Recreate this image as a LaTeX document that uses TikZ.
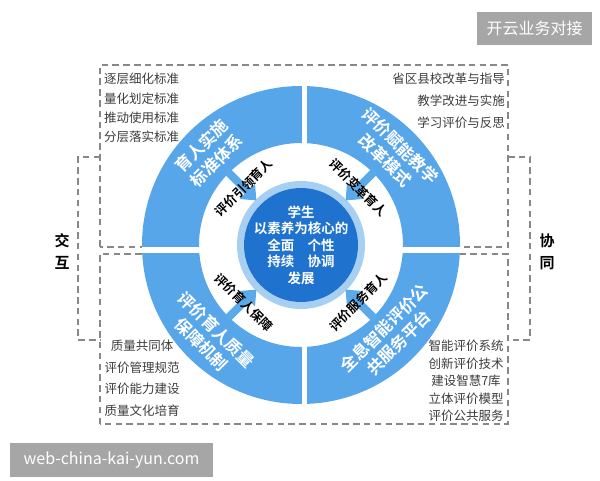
\documentclass[tikz,border=0pt]{standalone}
\usepackage{fontspec}
\setmainfont{Noto Sans CJK SC}[BoldFont={Noto Sans CJK SC Bold}]
\usetikzlibrary{arrows.meta,calc}

\definecolor{ringblue}{HTML}{58A6EA}
\definecolor{coreblue}{HTML}{1F72CE}
\definecolor{haloblue}{HTML}{A6CFF1}
\definecolor{feedblue}{HTML}{5AA9E8}
\definecolor{dashgray}{HTML}{888888}
\definecolor{itemgray}{HTML}{3C3C3C}
\definecolor{stampgray}{HTML}{A6A6A6}

\begin{document}
\begin{tikzpicture}[x=1pt,y=1pt,>={Triangle[width=21pt,length=13pt]},
  dashbox/.style={draw=dashgray,line width=1.3pt,dash pattern=on 6.5pt off 4.3pt},
  listitem/.style={text=itemgray,font=\fontsize{12.5}{#1}\selectfont,inner sep=0pt},
  ringlabel/.style={text=white,font=\bfseries\fontsize{16.5}{21}\selectfont,align=center,inner sep=0pt},
  bandlabel/.style={font=\bfseries\fontsize{12.5}{14}\selectfont,inner sep=0pt},
  feedarrow/.style={->,draw=feedblue,fill=feedblue,line width=8pt},
  sidelabel/.style={font=\bfseries\fontsize{15}{22}\selectfont,align=center,inner sep=0pt},
  stamp/.style={fill=stampgray,text=white,font=\fontsize{16}{18}\selectfont,inner sep=0pt}]
  \useasboundingbox (0,0) rectangle (600,480);
  \coordinate (O) at (301,235);
  % dashed frames and side brackets
  \draw[dashbox] (100,233) rectangle (508,415);
  \draw[dashbox] (100,56) rectangle (508,226);
  \draw[dashbox] (100,323) -- (78,323) -- (78,140) -- (100,140);
  \draw[dashbox] (508,323) -- (530,323) -- (530,140) -- (508,140);
  % ring
  \fill[white] (O) circle (159pt);
  \fill[ringblue,even odd rule] (O) circle (159pt) (O) circle (102pt);
  \begin{scope}
    \clip (O) circle (159pt);
    \fill[white] (302,60) rectangle (307,420);
    \fill[white] (120,227) rectangle (480,233);
  \end{scope}
  % core
  \fill[haloblue] (O) circle (64pt);
  \fill[coreblue] (O) circle (57pt);
  \coordinate (tlfrom) at ($(O)+(135:104)$);
  \coordinate (tlto) at ($(O)+(135:63)$);
  \coordinate (trfrom) at ($(O)+(45:104)$);
  \coordinate (trto) at ($(O)+(45:63)$);
  \coordinate (blfrom) at ($(O)+(225:104)$);
  \coordinate (blto) at ($(O)+(225:63)$);
  \coordinate (brfrom) at ($(O)+(-45:104)$);
  \coordinate (brto) at ($(O)+(-45:63)$);
  \draw[feedarrow] (tlfrom) -- (tlto);
  \draw[feedarrow] (trfrom) -- (trto);
  \draw[feedarrow] (blfrom) -- (blto);
  \draw[feedarrow] (brfrom) -- (brto);
  \node[text=white,font=\bfseries\fontsize{13.5}{16.5}\selectfont,align=center] (core) at (O)
    {学生\\以素养为核心的\\全面\quad 个性\\持续\quad 协调\\发展};
  % ring labels
  \node[ringlabel,rotate=45] (tlring) at ($(O)+(135:130)$) {育人实施\\标准体系};
  \node[ringlabel,rotate=-45] (trring) at ($(O)+(45:130)$) {评价赋能教学\\改革模式};
  \node[ringlabel,rotate=-45] (blring) at ($(O)+(225:130)$) {评价育人质量\\保障机制};
  \node[ringlabel,rotate=45] (brring) at ($(O)+(-45:128)$) {全息智能评价公\\共服务平台};
  % band labels
  \node[bandlabel,rotate=45] (tlband) at ($(O)+(135:81)$) {评价引领育人};
  \node[bandlabel,rotate=-45] (trband) at ($(O)+(45:81)$) {评价变革育人};
  \node[bandlabel,rotate=-45] (blband) at ($(O)+(225:81)$) {评价育人保障};
  \node[bandlabel,rotate=45] (brband) at ($(O)+(-45:81)$) {评价服务育人};
  % lists
  \node[listitem=19.3,anchor=north west,align=left] (tllist) at (104,407)
    {逐层细化标准\\量化划定标准\\推动使用标准\\分层落实标准};
  \node[listitem=22,anchor=north east,align=right] (trlist) at (505,407)
    {省区县校改革与指导\\教学改进与实施\\学习评价与反思};
  \node[listitem=21.5,anchor=north,align=center] (bllist) at (142,140)
    {质量共同体\\评价管理规范\\评价能力建设\\质量文化培育};
  \node[listitem=17.5,anchor=north,align=center] (brlist) at (466,140)
    {智能评价系统\\创新评价技术\\建设智慧7库\\立体评价模型\\评价公共服务};
  % sides
  \node[sidelabel] (left) at (62,228) {交\\互};
  \node[sidelabel] (right) at (547,228) {协\\同};
  % stamps
  \node[stamp,minimum width=115pt,minimum height=33pt] (topstamp) at (534.5,451.5) {开云业务对接};
  \node[stamp,minimum width=203pt,minimum height=34pt] (footstamp) at (111.5,20) {web-china-kai-yun.com};
\end{tikzpicture}
\end{document}
